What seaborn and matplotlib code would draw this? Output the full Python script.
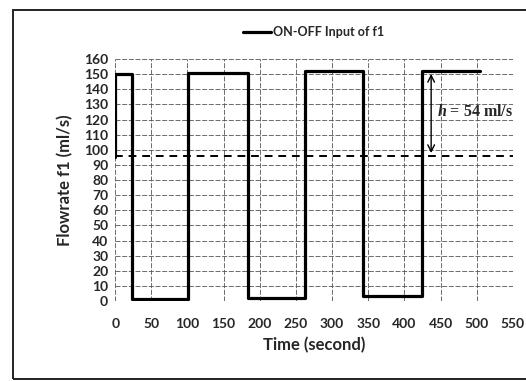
import pandas as pd
import matplotlib.pyplot as plt
import seaborn as sns
from matplotlib.patches import Rectangle

# ON-OFF input signal of f1 (switching times and levels)
switch_times = [0, 0, 23, 101, 184, 262, 343, 424, 504]
flow_levels = [95, 150, 1, 151, 2, 152, 3, 152, 152]
setpoint = 96
h_value = 54

x_ticks = list(range(0, 551, 50))
y_ticks = list(range(0, 161, 10))

sns.set_theme(style="white")
plt.rcParams['font.family'] = ['Lato', 'DejaVu Sans']
plt.rcParams['mathtext.fontset'] = 'custom'
plt.rcParams['mathtext.bfit'] = 'Liberation Serif:italic:bold'

df = pd.DataFrame({'Time': switch_times, 'Flow': flow_levels})

fig = plt.figure(figsize=(5.26, 3.81), dpi=100)
ax = fig.add_axes([0.219, 0.21, 0.756, 0.635])

sns.lineplot(data=df, x='Time', y='Flow', ax=ax, sort=False, estimator=None,
             drawstyle='steps-post', color='black', linewidth=2.3,
             label='ON-OFF Input of f1')

ax.axhline(setpoint, color='black', linestyle=(0, (4, 3)), linewidth=1.4)

# double arrow showing h
ax.annotate('', xy=(437, flow_levels[-1]), xytext=(437, setpoint),
            arrowprops=dict(arrowstyle='<->', color='black', lw=1.0))
ax.text(445, 125, r'$\mathbfit{h}$ = ' + f'{h_value} ml/s', family='Liberation Serif',
        fontsize=11.5, fontweight='bold', va='center', ha='left')

ax.set_xlim(0, 550)
ax.set_ylim(0, 160)
ax.set_xticks(x_ticks)
ax.set_yticks(y_ticks)
ax.grid(True, color='#555555', linestyle=(0, (6, 2)), linewidth=0.6)
for s in ax.spines.values():
    s.set_visible(False)
ax.tick_params(axis='x', labelsize=10, length=0, pad=12)
ax.tick_params(axis='y', labelsize=10, length=0, pad=5)
for lbl in ax.get_xticklabels() + ax.get_yticklabels():
    lbl.set_fontweight('bold')

ax.set_xlabel('Time (second)', fontsize=12, fontweight='bold', labelpad=5)
ax.set_ylabel('Flowrate f1 (ml/s)', fontsize=12, fontweight='bold', labelpad=8)

leg = ax.legend(loc='lower center', bbox_to_anchor=(0.5, 1.04), frameon=False,
                fontsize=9, handlelength=2.2, handletextpad=0.2)
for t in leg.get_texts():
    t.set_fontweight('bold')

# scanned frame around the chart
fig.patches.append(Rectangle((0.025, 0.004), 1.0, 0.97, transform=fig.transFigure,
                             fill=False, edgecolor='#222222', linewidth=1.4))

fig.savefig('out.png', dpi=100)
